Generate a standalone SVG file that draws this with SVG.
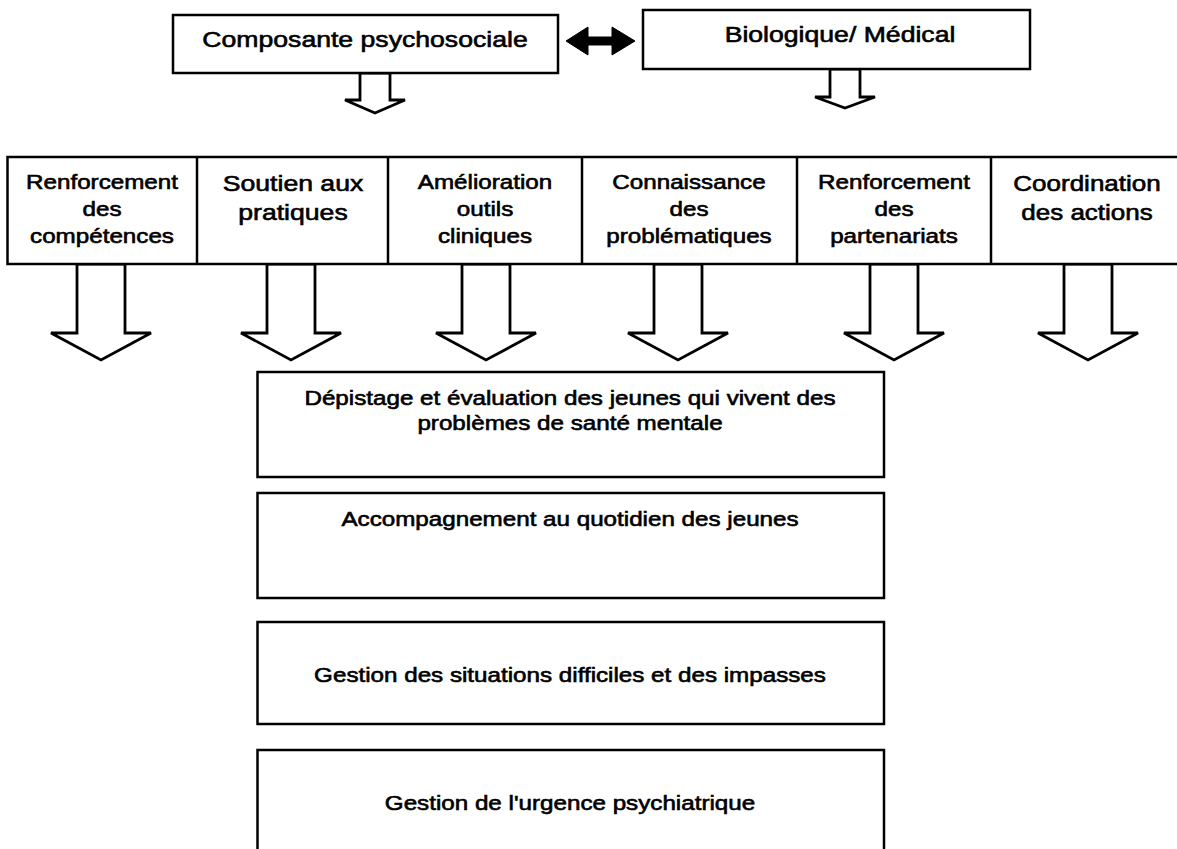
<svg xmlns="http://www.w3.org/2000/svg" width="1177" height="849" viewBox="0 0 1177 849">
<style>
  .box { fill: #fff; stroke: #000; stroke-width: 2.5; }
  .div { stroke: #000; stroke-width: 2.5; }
  .arr { fill: #fff; stroke: #000; stroke-width: 2.8; stroke-linejoin: miter; }
  text { font-family: "Liberation Sans", Arial, sans-serif; fill: #000; stroke: #000; stroke-width: 0.6; text-anchor: middle; }
  .t22 { font-size: 22px; }
  .t20 { font-size: 20px; }
  .t215 { font-size: 21.5px; }
</style>
<rect x="0" y="0" width="1177" height="849" fill="#fff"/>

<g id="connectors">
  <polygon points="566,41 588,27 588,37 612,37 612,27 635,41 612,55 612,45 588,45 588,55" fill="#000" stroke="#000" stroke-width="1"/>
  <polygon class="arr" points="360,73 360,100 345,100 375,113 405,100 390,100 390,73"/>
  <polygon class="arr" points="830,69 830,97 815,97 845,108 875,97 860,97 860,69"/>
  <polygon class="arr" points="77,264 77,333 51,333 101,360 151,333 125,333 125,264"/>
  <polygon class="arr" points="267,264 267,333 241,333 291,360 341,333 315,333 315,264"/>
  <polygon class="arr" points="462,264 462,333 436,333 486,360 536,333 510,333 510,264"/>
  <polygon class="arr" points="654,264 654,333 628,333 678,360 728,333 702,333 702,264"/>
  <polygon class="arr" points="870,264 870,333 844,333 894,360 944,333 918,333 918,264"/>
  <polygon class="arr" points="1064,264 1064,333 1038,333 1088,360 1138,333 1112,333 1112,264"/>
</g>

<g id="psychosocial">
  <rect class="box" x="173" y="15" width="385" height="58"/>
  <text class="t22" transform="translate(365,47) scale(1.21,1)">Composante psychosociale</text>
</g>
<g id="biologique">
  <rect class="box" x="643" y="10" width="387" height="59"/>
  <text class="t22" transform="translate(840,42) scale(1.21,1)">Biologique/ Médical</text>
</g>

<g id="row">
  <rect class="box" x="7.5" y="157" width="1180" height="107"/>
  <line class="div" x1="197" y1="157" x2="197" y2="264"/>
  <line class="div" x1="388" y1="157" x2="388" y2="264"/>
  <line class="div" x1="582" y1="157" x2="582" y2="264"/>
  <line class="div" x1="797" y1="157" x2="797" y2="264"/>
  <line class="div" x1="991" y1="157" x2="991" y2="264"/>
</g>
<g id="renforcement-competences">
  <text class="t20" transform="translate(102,189) scale(1.21,1)">Renforcement</text>
  <text class="t20" transform="translate(102,216) scale(1.21,1)">des</text>
  <text class="t20" transform="translate(102,243) scale(1.21,1)">compétences</text>
</g>
<g id="soutien-pratiques">
  <text class="t22" transform="translate(293,191) scale(1.21,1)">Soutien aux</text>
  <text class="t22" transform="translate(293,220) scale(1.21,1)">pratiques</text>
</g>
<g id="amelioration-outils">
  <text class="t20" transform="translate(485,189) scale(1.21,1)">Amélioration</text>
  <text class="t20" transform="translate(485,216) scale(1.21,1)">outils</text>
  <text class="t20" transform="translate(485,243) scale(1.21,1)">cliniques</text>
</g>
<g id="connaissance-problematiques">
  <text class="t20" transform="translate(689,189) scale(1.21,1)">Connaissance</text>
  <text class="t20" transform="translate(689,216) scale(1.21,1)">des</text>
  <text class="t20" transform="translate(689,243) scale(1.21,1)">problématiques</text>
</g>
<g id="renforcement-partenariats">
  <text class="t20" transform="translate(894,189) scale(1.21,1)">Renforcement</text>
  <text class="t20" transform="translate(894,216) scale(1.21,1)">des</text>
  <text class="t20" transform="translate(894,243) scale(1.21,1)">partenariats</text>
</g>
<g id="coordination-actions">
  <text class="t215" transform="translate(1087,191) scale(1.21,1)">Coordination</text>
  <text class="t215" transform="translate(1087,220) scale(1.21,1)">des actions</text>
</g>

<g id="depistage">
  <rect class="box" x="257.5" y="372" width="626.5" height="105"/>
  <text class="t20" transform="translate(570,405) scale(1.21,1)">Dépistage et évaluation des jeunes qui vivent des</text>
  <text class="t20" transform="translate(570,430) scale(1.21,1)">problèmes de santé mentale</text>
</g>
<g id="accompagnement">
  <rect class="box" x="257.5" y="493" width="626.5" height="105"/>
  <text class="t20" transform="translate(570,526) scale(1.21,1)">Accompagnement au quotidien des jeunes</text>
</g>
<g id="situations-difficiles">
  <rect class="box" x="257.5" y="622" width="626.5" height="102"/>
  <text class="t20" transform="translate(570,682) scale(1.21,1)">Gestion des situations difficiles et des impasses</text>
</g>
<g id="urgence">
  <rect class="box" x="257.5" y="750" width="626.5" height="120"/>
  <text class="t20" transform="translate(570,810) scale(1.21,1)">Gestion de l'urgence psychiatrique</text>
</g>
</svg>
